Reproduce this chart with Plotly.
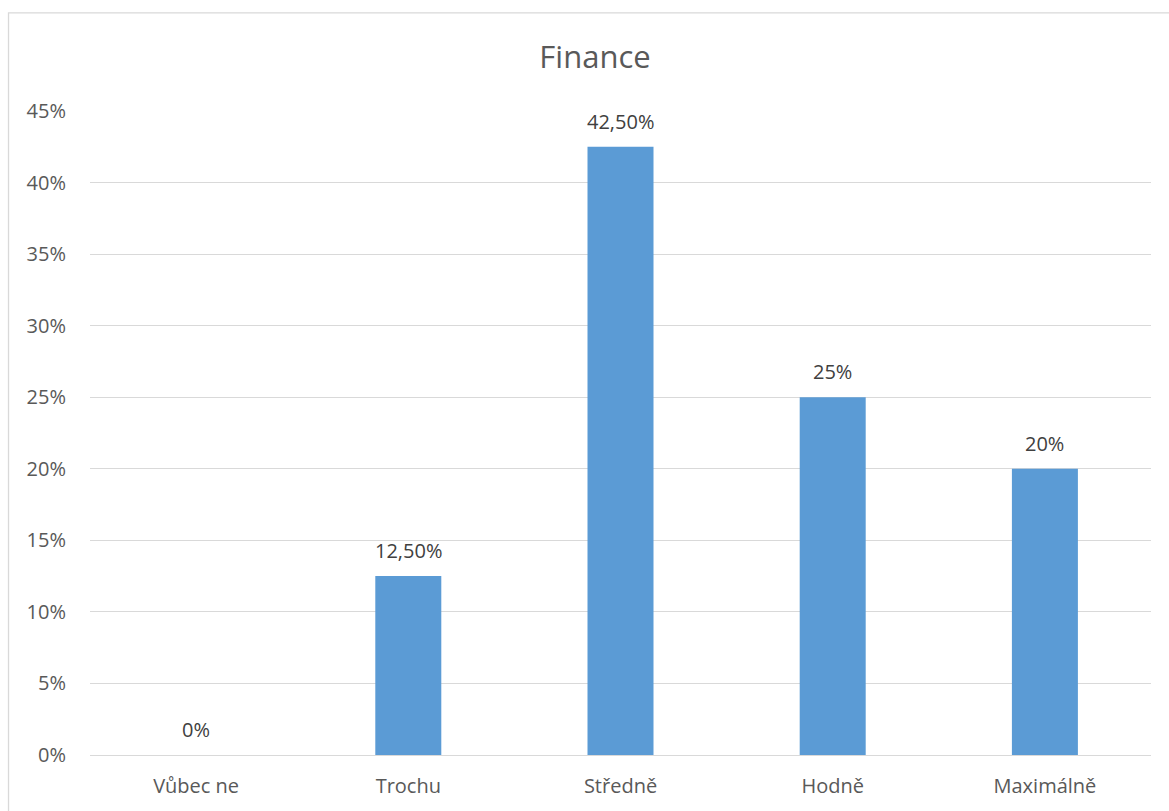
import plotly.graph_objects as go

categories = ["Vůbec ne", "Trochu", "Středně", "Hodně", "Maximálně"]
values = [0, 12.5, 42.5, 25, 20]
y_ticks = [0, 5, 10, 15, 20, 25, 30, 35, 40, 45]
y_tick_labels = [f"{t}%" for t in y_ticks]
title_text = "Finance"


def fmt(v):
    if float(v).is_integer():
        return f"{int(v)}%"
    return f"{v:.2f}%".replace(".", ",")


labels = [fmt(v) for v in values]

FONT = "Open Sans, Liberation Sans, sans-serif"
GRAY = "#595959"

fig = go.Figure()
fig.add_trace(go.Bar(
    x=categories, y=values,
    marker=dict(color="#5B9BD5", line=dict(width=0)),
    hoverinfo="x+y",
))

for c, v, t in zip(categories, values, labels):
    fig.add_annotation(x=c, y=v, text=t, showarrow=False, yanchor="bottom",
                       yshift=10, font=dict(family=FONT, size=20, color="#404040"))

fig.add_shape(type="rect", xref="paper", yref="paper",
              x0=-0.0768, x1=1.03, y0=-0.12, y1=1.1525,
              line=dict(color="#d9d9d9", width=1.3), fillcolor="rgba(0,0,0,0)", layer="below")

fig.update_layout(
    width=1169, height=811,
    margin=dict(l=90, r=18, t=111, b=53),
    paper_bgcolor="white", plot_bgcolor="white",
    bargap=0.689,
    showlegend=False,
    title=dict(text=title_text, x=595 / 1169, xanchor="center", y=1 - 57 / 811, yanchor="middle",
               font=dict(family=FONT, size=31, color=GRAY)),
    xaxis=dict(showgrid=False, showline=False, ticks="", ticklabelstandoff=17,
               tickfont=dict(family=FONT, size=20, color=GRAY)),
    yaxis=dict(range=[0, 45], tickvals=y_ticks, ticktext=y_tick_labels,
               showgrid=True, gridcolor="#d9d9d9", gridwidth=1,
               zeroline=True, zerolinecolor="#d9d9d9", zerolinewidth=1,
               showline=False, ticks="", ticklabelstandoff=23,
               tickfont=dict(family=FONT, size=20, color=GRAY)),
)

fig.write_html("out.html", config={"displayModeBar": False},
               post_script="document.body.style.margin='0';document.body.style.overflow='hidden';")
